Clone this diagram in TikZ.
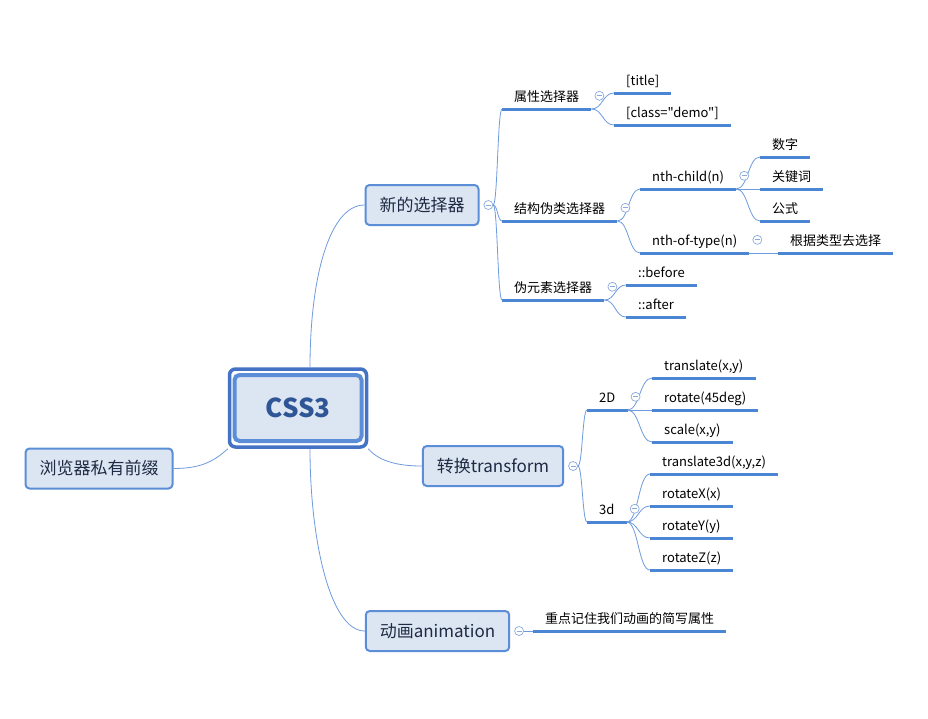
\documentclass[tikz,border=0pt]{standalone}
\usepackage{fontspec}
\setmainfont{Noto Sans CJK SC}
\newfontfamily\leaffont{Noto Sans CJK SC}
\usetikzlibrary{calc,positioning}
\definecolor{linkblue}{HTML}{6E9BDE}
\definecolor{lineblue}{HTML}{4A86D4}
\definecolor{boxfill}{HTML}{DCE6F2}
\definecolor{boxdraw}{HTML}{5B8ED6}
\definecolor{rootdraw}{HTML}{4472C4}
\definecolor{roottext}{HTML}{2F5597}
\definecolor{topictext}{HTML}{1F2A44}
\definecolor{foldc}{HTML}{8AAADC}
\tikzset{
  rootin/.style={draw=boxdraw, fill=boxfill, line width=4pt, rounded corners=5pt,
    minimum width=127pt, minimum height=66pt, text=roottext,
    font=\bfseries\fontsize{26}{30}\selectfont},
  rootframe/.style={draw=rootdraw, line width=3.5pt, rounded corners=6pt,
    minimum width=137pt, minimum height=78pt},
  topic/.style={draw=boxdraw, fill=boxfill, line width=2pt, rounded corners=4pt,
    inner xsep=14pt, minimum height=40pt, text=topictext,
    font=\fontsize{17}{20}\selectfont},
  leaf/.style={anchor=south west, inner xsep=12pt, inner ysep=0pt,
    text height=13pt, text depth=7pt, font=\leaffont\fontsize{13}{15}\selectfont},
  uline/.style={draw=lineblue, line width=3pt},
  link/.style={draw=linkblue, line width=0.8pt},
  fork/.style={link, to path={let \p1=(\tikztostart), \p2=(\tikztotarget) in
    .. controls (\x1/2+\x2/2,\y1) and (\x1/2+\x2/2,\y2) .. (\tikztotarget)}},
  fold/.style={circle, draw=foldc, fill=white, line width=0.7pt, minimum size=9pt,
    inner sep=0pt, path picture={\draw[foldc, line width=0.7pt]
      ([xshift=-2.5pt]path picture bounding box.center) --
      ([xshift=2.5pt]path picture bounding box.center);}},
}
\begin{document}
\begin{tikzpicture}[x=1pt,y=-1pt]
  \useasboundingbox[fill=white] (0,0) rectangle (928,718);

  % central topic
  \node[rootin] (root) at (298,408) {CSS3};
  \node[rootframe] (rootf) at (root) {};

  % main topics
  \node[topic] (sel) at (422,205) {新的选择器};
  \node[topic] (tr) at (493,466) {转换transform};
  \node[topic] (anim) at (437.5,631) {动画animation};
  \node[topic] (prefix) at (99,468.5) {浏览器私有前缀};

  \node[fold, right=4pt of sel] (sel-o) {};
  \node[fold, right=4pt of tr] (tr-o) {};
  \node[fold, right=4pt of anim] (anim-o) {};

  \draw[link] ([xshift=12pt]rootf.north) .. controls +(0,-90) and +(-35,0) .. (sel.west);
  \draw[link] ([xshift=12pt]rootf.south) .. controls +(0,90) and +(-35,0) .. (anim.west);
  \draw[link] (rootf.south east) .. controls +(12,14) and +(-20,0) .. (tr.west);
  \draw[link] (rootf.south west) .. controls +(-15,14) and +(25,0) .. (prefix.east);

  % selectors
  \node[leaf] (attr) at (502,109) {属性选择器};
  \node[leaf] (struct) at (502,221) {结构伪类选择器};
  \node[leaf] (pseudo) at (502,300) {伪元素选择器};
  \node[leaf] (title) at (614,93) {[title]};
  \node[leaf] (cls) at (614,125) {[class="demo"]};
  \node[leaf] (nthc) at (640,189) {nth-child(n)};
  \node[leaf] (ntht) at (640,253) {nth-of-type(n)};
  \node[leaf] (num) at (760,157) {数字};
  \node[leaf] (kw) at (760,189) {关键词};
  \node[leaf] (formula) at (760,221) {公式};
  \node[leaf] (bytype) at (778,253) {根据类型去选择};
  \node[leaf] (before) at (626,285) {::before};
  \node[leaf] (after) at (626,317) {::after};

  % transform
  \node[leaf] (twod) at (587,410) {2D};
  \node[leaf] (threed) at (587,522) {3d};
  \node[leaf] (tl) at (652,378) {translate(x,y)};
  \node[leaf] (rot) at (652,410) {rotate(45deg)};
  \node[leaf] (scl) at (652,442) {scale(x,y)};
  \node[leaf] (tl3) at (650,474) {translate3d(x,y,z)};
  \node[leaf] (rx) at (650,506) {rotateX(x)};
  \node[leaf] (ry) at (650,538) {rotateY(y)};
  \node[leaf] (rz) at (650,570) {rotateZ(z)};

  % animation
  \node[leaf] (short) at (533,631) {重点记住我们动画的简写属性};

  \foreach \n in {attr,struct,pseudo,title,cls,nthc,ntht,num,kw,formula,bytype,
      before,after,twod,threed,tl,rot,scl,tl3,rx,ry,rz,short}
    \draw[uline] (\n.south west) -- (\n.south east);

  \foreach \p/\c in {sel-o/attr,sel-o/struct,sel-o/pseudo,tr-o/twod,tr-o/threed,
      anim-o/short}
    \draw[fork] (\p.east) to (\c.south west);
  \foreach \p/\c in {attr/title,attr/cls,struct/nthc,struct/ntht,nthc/num,nthc/kw,
      nthc/formula,ntht/bytype,pseudo/before,pseudo/after,twod/tl,twod/rot,twod/scl,
      threed/tl3,threed/rx,threed/ry,threed/rz}
    \draw[fork] (\p.south east) to (\c.south west);

  \foreach \n in {attr,struct,pseudo,nthc,ntht,twod,threed}
    \node[fold] (\n-o) at ([xshift=8pt,yshift=3pt]\n.east) {};
\end{tikzpicture}
\end{document}
